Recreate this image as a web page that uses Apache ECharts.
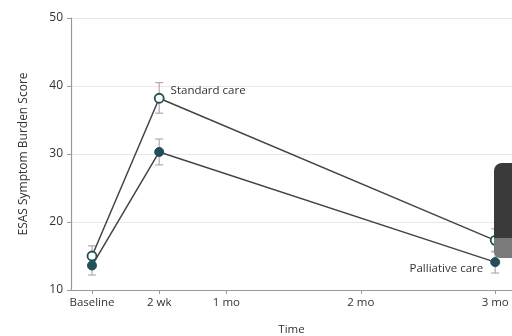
<!DOCTYPE html>
<html><head><meta charset="utf-8">
<script src="https://cdn.jsdelivr.net/npm/echarts@6/dist/echarts.min.js"></script>
<style>html,body{margin:0;padding:0;background:#fff}#c{width:512px;height:336px}</style>
</head><body><div id="c"></div>
<script>
var timeWeeks = [0, 2, 12];
var tickWeeks = [0, 2, 4, 8, 12];
var tickLabels = ['Baseline', '2 wk', '1 mo', '2 mo', '3 mo'];
var standardMean = [15.0, 38.2, 17.3];
var standardLow = [13.5, 36.0, 15.6];
var standardHigh = [16.5, 40.5, 19.0];
var palliativeMean = [13.6, 30.3, 14.1];
var palliativeLow = [12.2, 28.4, 12.5];
var palliativeHigh = [15.0, 32.2, 15.7];

function pts(m){ return timeWeeks.map(function(t,i){ return [t, m[i]]; }); }
function errs(lo,hi){ return timeWeeks.map(function(t,i){ return [t, lo[i], hi[i]]; }); }

function errRender(params, api){
  var x = api.value(0);
  var lo = api.coord([x, api.value(1)]);
  var hi = api.coord([x, api.value(2)]);
  var w = 4;
  var st = {stroke:'#b3a9ad', lineWidth:1.2};
  return {type:'group', children:[
    {type:'line', shape:{x1:lo[0],y1:lo[1],x2:hi[0],y2:hi[1]}, style:st},
    {type:'line', shape:{x1:lo[0]-w,y1:lo[1],x2:lo[0]+w,y2:lo[1]}, style:st},
    {type:'line', shape:{x1:hi[0]-w,y1:hi[1],x2:hi[0]+w,y2:hi[1]}, style:st}
  ]};
}

var chart = echarts.init(document.getElementById('c'));
var font = '"Open Sans", sans-serif';
chart.setOption({
  animation:false,
  textStyle:{fontFamily:font},
  grid:{left:71, right:0, top:18, bottom:46, outerBoundsMode:'none', containLabel:false},
  xAxis:{
    type:'value', min:-0.625, max:12.5,
    name:'Time', nameLocation:'middle', nameGap:34,
    nameTextStyle:{color:'#333', fontSize:11.5, fontFamily:font},
    axisLine:{onZero:false, lineStyle:{color:'#999', width:1.2}},
    axisTick:{show:true, customValues:tickWeeks, length:4, lineStyle:{color:'#999'}},
    axisLabel:{customValues:tickWeeks, color:'#333', fontSize:11.5, margin:7,
      formatter:function(v){ var i = tickWeeks.indexOf(v); return i>=0 ? tickLabels[i] : ''; }},
    splitLine:{show:false}
  },
  yAxis:{
    type:'value', min:10, max:50, interval:10,
    name:'ESAS Symptom Burden Score', nameLocation:'middle', nameGap:41,
    nameTextStyle:{color:'#333', fontSize:12, fontFamily:font},
    axisLine:{show:true, onZero:false, lineStyle:{color:'#999', width:1.2}},
    axisTick:{show:true, length:4, lineStyle:{color:'#999'}},
    axisLabel:{color:'#333', fontSize:12, margin:8},
    splitLine:{lineStyle:{color:'#e8e8e8', width:1}}
  },
  series:[
    {type:'custom', name:'sErr', renderItem:errRender, data:errs(standardLow, standardHigh), z:1},
    {type:'custom', name:'pErr', renderItem:errRender, data:errs(palliativeLow, palliativeHigh), z:1},
    {type:'line', name:'Standard care', data:pts(standardMean), symbol:'circle', symbolSize:9,
      lineStyle:{color:'#444', width:1.5},
      itemStyle:{color:'#ffffff', borderColor:'#1f4f57', borderWidth:1.8}, z:3,
      label:{show:true, color:'#333', fontSize:11.5,
        formatter:function(p){ return p.dataIndex===1 ? 'Standard care' : ''; },
        position:'right', offset:[1,-8]}},
    {type:'line', name:'Palliative care', data:pts(palliativeMean), symbol:'circle', symbolSize:9,
      lineStyle:{color:'#444', width:1.5},
      itemStyle:{color:'#1f4f57', borderColor:'#1f4f57', borderWidth:1}, z:3,
      label:{show:true, color:'#333', fontSize:11.5,
        formatter:function(p){ return p.dataIndex===2 ? 'Palliative care' : ''; },
        position:'left', offset:[-2,7]}}
  ],
  graphic:[
    {type:'rect', left:494, top:163, shape:{width:30, height:95, r:8}, style:{fill:'#3a3a3a'}, z:100},
    {type:'rect', left:494, top:238, shape:{width:30, height:20, r:[0,0,6,6]}, style:{fill:'#7a7a7a'}, z:101}
  ]
});
</script></body></html>
